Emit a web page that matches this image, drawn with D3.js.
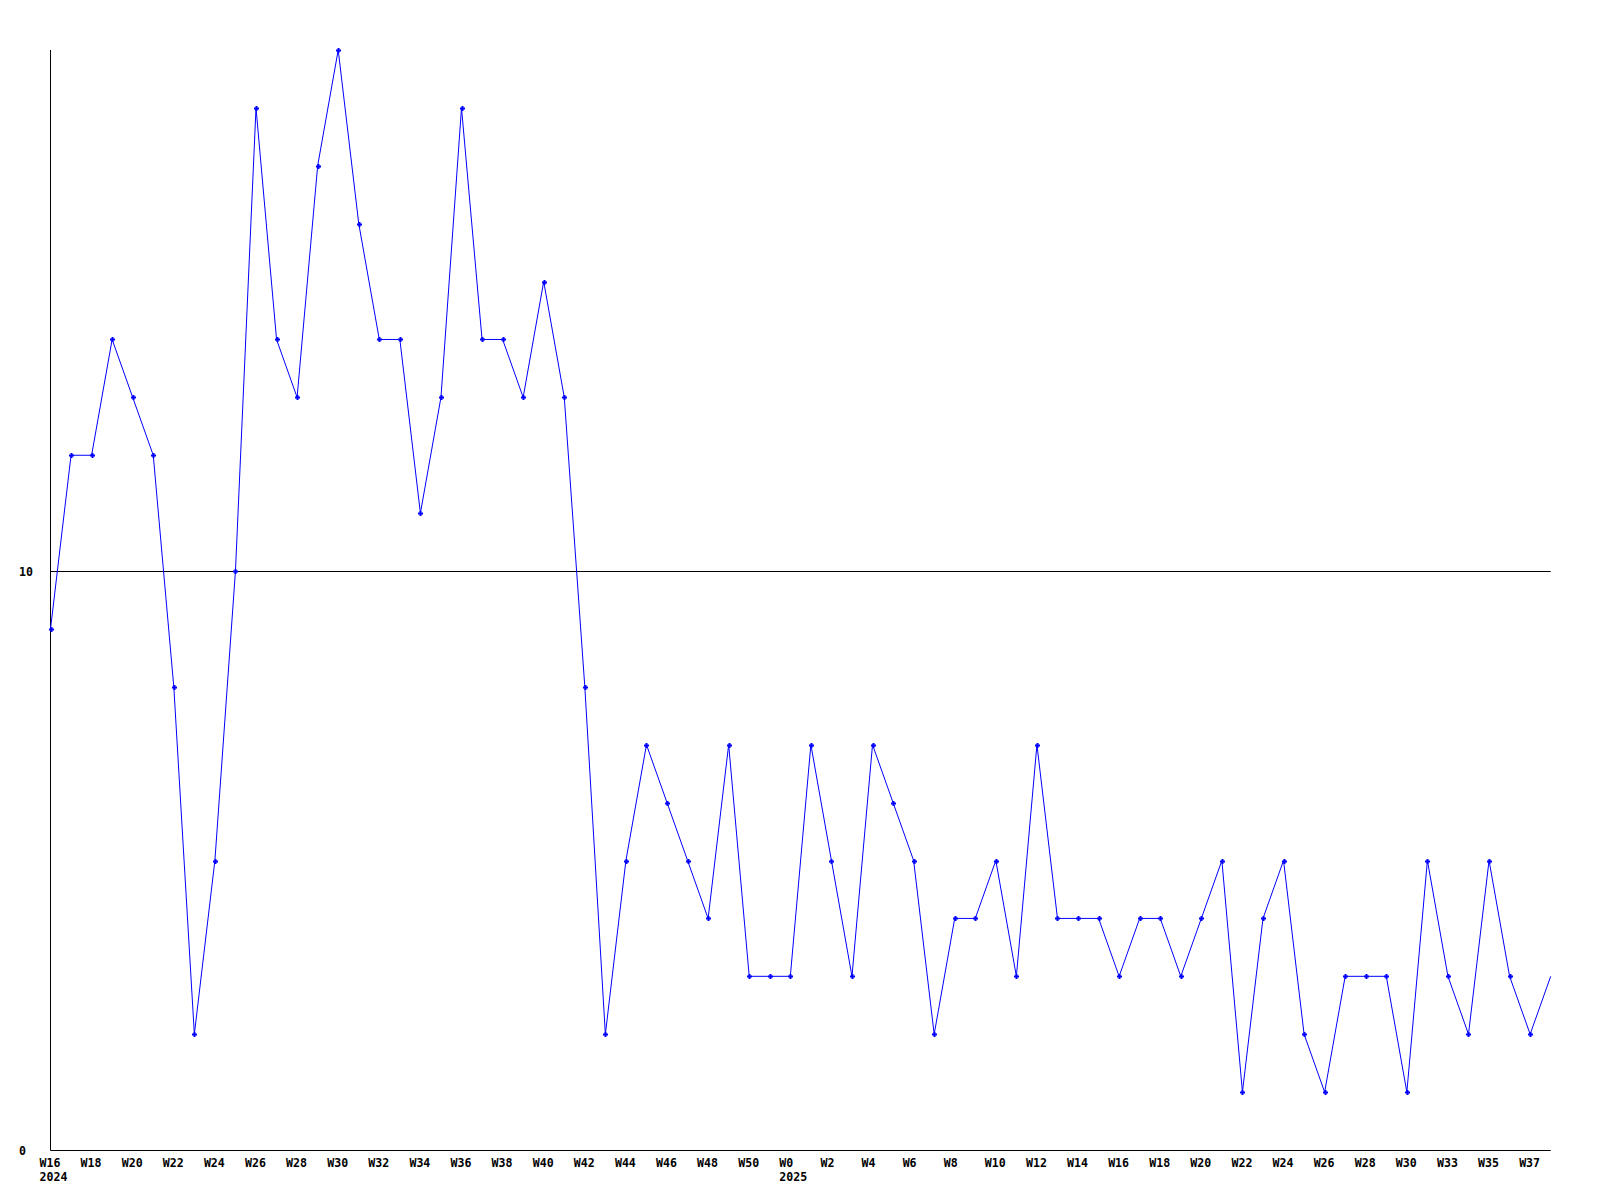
<!DOCTYPE html>
<html>
<head>
<meta charset="utf-8">
<script src="https://cdn.jsdelivr.net/npm/d3@7"></script>
<style>
  body { margin: 0; background: #fff; }
  .lbl { font-family: "DejaVu Sans Mono", monospace; font-weight: bold; font-size: 11.6px; fill: #000; }
</style>
</head>
<body>
<div id="chart"></div>
<script>
// Data
//=================================
var weeks = [
  "2024-W16","2024-W17","2024-W18","2024-W19","2024-W20","2024-W21","2024-W22","2024-W23","2024-W24","2024-W25",
  "2024-W26","2024-W27","2024-W28","2024-W29","2024-W30","2024-W31","2024-W32","2024-W33","2024-W34","2024-W35",
  "2024-W36","2024-W37","2024-W38","2024-W39","2024-W40","2024-W41","2024-W42","2024-W43","2024-W44","2024-W45",
  "2024-W46","2024-W47","2024-W48","2024-W49","2024-W50","2024-W51",
  "2025-W0","2025-W1","2025-W2","2025-W3","2025-W4","2025-W5","2025-W6","2025-W7","2025-W8","2025-W9",
  "2025-W10","2025-W11","2025-W12","2025-W13","2025-W14","2025-W15","2025-W16","2025-W17","2025-W18","2025-W19",
  "2025-W20","2025-W21","2025-W22","2025-W23","2025-W24","2025-W25","2025-W26","2025-W27","2025-W28","2025-W29",
  "2025-W30","2025-W31","2025-W33","2025-W34","2025-W35","2025-W36","2025-W37","2025-W38"
];

var counts = [
  9, 12, 12, 14, 13, 12, 8, 2, 5, 10,
  18, 14, 13, 17, 19, 16, 14, 14, 11, 13,
  18, 14, 14, 13, 15, 13, 8, 2, 5, 7,
  6, 5, 4, 7, 3, 3,
  3, 7, 5, 3, 7, 6, 5, 2, 4, 4,
  5, 3, 7, 4, 4, 4, 3, 4, 4, 3,
  4, 5, 1, 4, 5, 2, 1, 3, 3, 3,
  1, 5, 3, 2, 5, 3, 2, 3
];

// every other week gets a label
var tickWeeks = weeks.filter(function(d, i) { return i % 2 === 0; });
var yearMarks = ["2024-W16", "2025-W0"];
var yTicks = [0, 10];

// Set up our chart
//=================================
var svgWidth = 1600;
var svgHeight = 1200;

var plotLeft = 50.5, plotRight = 1550.7, plotTop = 50, plotBottom = 1150;

var svg = d3.select("#chart")
  .append("svg")
  .attr("width", svgWidth)
  .attr("height", svgHeight);

var data = weeks.map(function(w, i) { return { week: w, count: counts[i] }; });

var x = d3.scalePoint()
  .domain(weeks)
  .range([plotLeft, plotRight]);

var y = d3.scaleLinear()
  .domain([0, 19])
  .range([plotBottom, plotTop]);

// axis lines
svg.append("line")
  .attr("x1", plotLeft).attr("x2", plotLeft)
  .attr("y1", plotTop).attr("y2", y(0) + 0.5)
  .attr("stroke", "#000");

svg.append("line")
  .attr("x1", plotLeft).attr("x2", plotRight)
  .attr("y1", Math.round(y(0)) + 0.5).attr("y2", Math.round(y(0)) + 0.5)
  .attr("stroke", "#000");

// reference line at 10
svg.append("line")
  .attr("x1", plotLeft).attr("x2", plotRight)
  .attr("y1", Math.round(y(10)) + 0.5).attr("y2", Math.round(y(10)) + 0.5)
  .attr("stroke", "#000");

// y labels
svg.selectAll(".ylbl")
  .data(yTicks)
  .enter()
  .append("text")
  .attr("class", "lbl")
  .attr("x", 19)
  .attr("y", d => y(d) + 4.8)
  .text(d => d);

// x labels (left aligned, as in the original)
svg.selectAll(".xlbl")
  .data(tickWeeks)
  .enter()
  .append("text")
  .attr("class", "lbl")
  .attr("x", d => x(d) - 11)
  .attr("y", 1167)
  .text(d => d.split("-")[1]);

svg.selectAll(".yrlbl")
  .data(yearMarks)
  .enter()
  .append("text")
  .attr("class", "lbl")
  .attr("x", d => x(d) - 11)
  .attr("y", 1180.5)
  .text(d => d.split("-")[0]);

// the line
var line = d3.line()
  .x(d => x(d.week))
  .y(d => y(d.count));

svg.append("path")
  .datum(data)
  .attr("d", line)
  .attr("fill", "none")
  .attr("stroke", "#0000ff")
  .attr("stroke-width", 1);

// small plus markers, last point has none
var marks = svg.selectAll(".mark")
  .data(data.slice(0, data.length - 1))
  .enter()
  .append("g")
  .attr("transform", d => `translate(${Math.round(x(d.week))},${Math.round(y(d.count))})`);

marks.append("rect")
  .attr("x", -2).attr("y", -0.5).attr("width", 5).attr("height", 2)
  .attr("fill", "#0000ff");

marks.append("rect")
  .attr("x", -0.5).attr("y", -2).attr("width", 2).attr("height", 5)
  .attr("fill", "#0000ff");
</script>
</body>
</html>
